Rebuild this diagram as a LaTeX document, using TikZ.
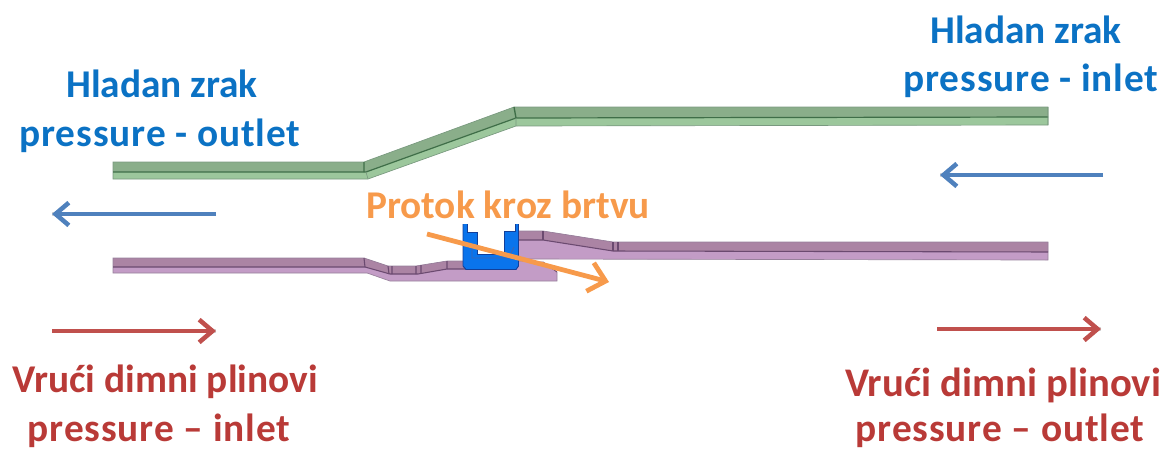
\documentclass[tikz,border=0pt]{standalone}
\usepackage{fontspec}
\setmainfont{Carlito}
\usetikzlibrary{arrows.meta}
\definecolor{lblblue}{HTML}{0B72C4}
\definecolor{lblred}{HTML}{B93A37}
\definecolor{lblorange}{HTML}{F79A4B}
\definecolor{arrblue}{HTML}{4F81BD}
\definecolor{arrred}{HTML}{C0504D}
\definecolor{grtop}{HTML}{8AAE8A}
\definecolor{grlow}{HTML}{9CC79C}
\definecolor{grline}{HTML}{3F6E48}
\definecolor{putop}{HTML}{AB84A4}
\definecolor{pulow}{HTML}{C39CC6}
\definecolor{puline}{HTML}{6B4A70}
\definecolor{sealblue}{HTML}{0A74EC}
\definecolor{sealdark}{HTML}{123F9A}
\newfontfamily\lblwide[LetterSpace=2.2]{Carlito}
\tikzset{
  x=0.75pt,y=-0.75pt,
  lbl/.style={font=\fontsize{29.5pt}{32pt}\selectfont\bfseries,inner sep=0pt,anchor=center},
  lblw/.style={font=\fontsize{29.5pt}{32pt}\lblwide\bfseries,inner sep=0pt,anchor=center},
  lblv/.style={font=\fontsize{30.5pt}{32pt}\selectfont\bfseries,inner sep=0pt,anchor=center},
  arrline/.style={line width=3pt,-{Straight Barb[length=10pt,width=17pt,line width=3.4pt]}},
  shadowline/.style={line width=3pt,black!22,opacity=.75},
  grface/.style={line width=.5pt,draw=grline!70},
  puface/.style={line width=.5pt,draw=puline!70},
}
\begin{document}
\begin{tikzpicture}
\useasboundingbox (0,0) rectangle (1162,450);
% text
\node[lbl,text=lblblue] (t1) at (162,84) {Hladan zrak};
\node[lblw,text=lblblue] (t2) at (160,136) {pressure - outlet};
\node[lbl,text=lblblue] (t3) at (1026,30) {Hladan zrak};
\node[lblw,text=lblblue] (t4) at (1031,81) {pressure - inlet};
\node[lbl,text=lblred] (t5) at (165,382) {Vrući dimni plinovi};
\node[lblw,text=lblred] (t6) at (159,431) {pressure – inlet};
\node[lblv,text=lblred] (t7) at (1003,385) {Vrući dimni plinovi};
\node[lblw,text=lblred] (t8) at (1000,431) {pressure – outlet};
% green duct
\fill[grtop] (113,162)--(364,162)--(514,107)--(1048,107)--(1048,117)--(516,118)--(366,172)--(113,172)--cycle;
\fill[grlow] (113,172)--(366,172)--(516,118)--(1048,117)--(1048,125)--(516,126)--(368,179)--(113,179)--cycle;
\draw[grface] (113,162)--(364,162)--(514,107)--(1048,107)--(1048,125)--(516,126)--(368,179)--(113,179)--cycle;
\draw[grline,line width=.9pt] (113,172)--(366,172)--(516,118)--(1048,117);
\draw[grline,line width=1pt] (364,162)--(364,172) (514,107)--(516,118);
\draw[grline!70,line width=.5pt] (366,172)--(368,179) (516,118)--(516,126) (1048,107)--(1048,125);
% purple, left plate
\fill[pulow] (113,258)--(364,258)--(388,266)--(416,266)--(447,261)--(518,261)--(543,262)--(557,272)--(557,281)--(390,281)--(367,273)--(113,273)--cycle;
\fill[putop] (113,258)--(364,258)--(388,266)--(416,266)--(447,261)--(470,261)--(470,269)--(447,269)--(418,274)--(390,274)--(365,267)--(113,267)--cycle;
\draw[puface] (113,258)--(364,258)--(388,266)--(416,266)--(447,261)--(518,261)--(543,262)--(557,272)--(557,281)--(390,281)--(367,273)--(113,273)--cycle;
\draw[puline,line width=.8pt] (113,267)--(365,267)--(390,274)--(418,274)--(447,269)--(470,269);
\draw[puline,line width=.8pt] (364,258)--(365,267) (388,266)--(389,274) (392,266)--(392,274) (416,266)--(416,274) (421,265)--(421,273) (447,261)--(447,269);
\draw[puline,line width=.6pt] (543,262)--(557,272);
% purple, right plate
\fill[pulow] (518,231)--(543,231)--(613,242)--(1048,242)--(1048,260)--(518,259)--cycle;
\fill[putop] (518,231)--(543,231)--(613,242)--(1048,242)--(1048,252)--(613,251)--(543,240)--(518,240)--cycle;
\draw[puface] (518,231)--(543,231)--(613,242)--(1048,242)--(1048,260)--(518,259)--cycle;
\draw[puline,line width=.8pt] (518,240)--(543,240)--(613,251)--(1048,252);
\draw[puline,line width=.8pt] (543,231)--(543,240) (613,242)--(613,251) (618,242)--(618,251);
% seal
\fill[sealblue] (463,224)--(467,224)--(467,232)--(477,232)--(477,254)--(504,254)--(504,231)--(515,231)--(515,224)--(518.5,224)--(518.5,266)--(516,269.5)--(466,269.5)--(463,266)--cycle;
\draw[sealdark,line width=.7pt] (463,224)--(463,266)--(466,269.5)--(516,269.5)--(518.5,266)--(518.5,224);
\draw[sealdark,line width=.5pt] (467,224)--(467,232)--(477,232)--(477,254)--(504,254)--(504,231)--(515,231)--(515,224);
\draw[sealdark!80,line width=.6pt] (472,247)--(472,258)--(509,258)--(511,253)--(514,247);
% arrows
\coordinate (bl1) at (216,214); \coordinate (bl2) at (52,214);
\coordinate (br1) at (1103,175); \coordinate (br2) at (940,175);
\coordinate (rl1) at (52,331); \coordinate (rl2) at (216,331);
\coordinate (rr1) at (937,329); \coordinate (rr2) at (1101,329);
\coordinate (or1) at (427,234); \coordinate (or2) at (609,282);
\foreach \a/\b in {bl1/bl2,br1/br2,rl1/rl2,rr1/rr2}{
  \draw[shadowline,shift={(1,3)}] (\a)--(\b);
}
\draw[arrline,draw=arrblue] (bl1)--(bl2);
\draw[arrline,draw=arrblue] (br1)--(br2);
\draw[arrline,draw=arrred] (rl1)--(rl2);
\draw[arrline,draw=arrred] (rr1)--(rr2);
\draw[line width=3.6pt,draw=lblorange,-{Straight Barb[length=12pt,width=22pt,line width=3.6pt]}] (or1)--(or2);
\node[lbl,text=lblorange] (t9) at (508,205) {Protok kroz brtvu};
\end{tikzpicture}
\end{document}
